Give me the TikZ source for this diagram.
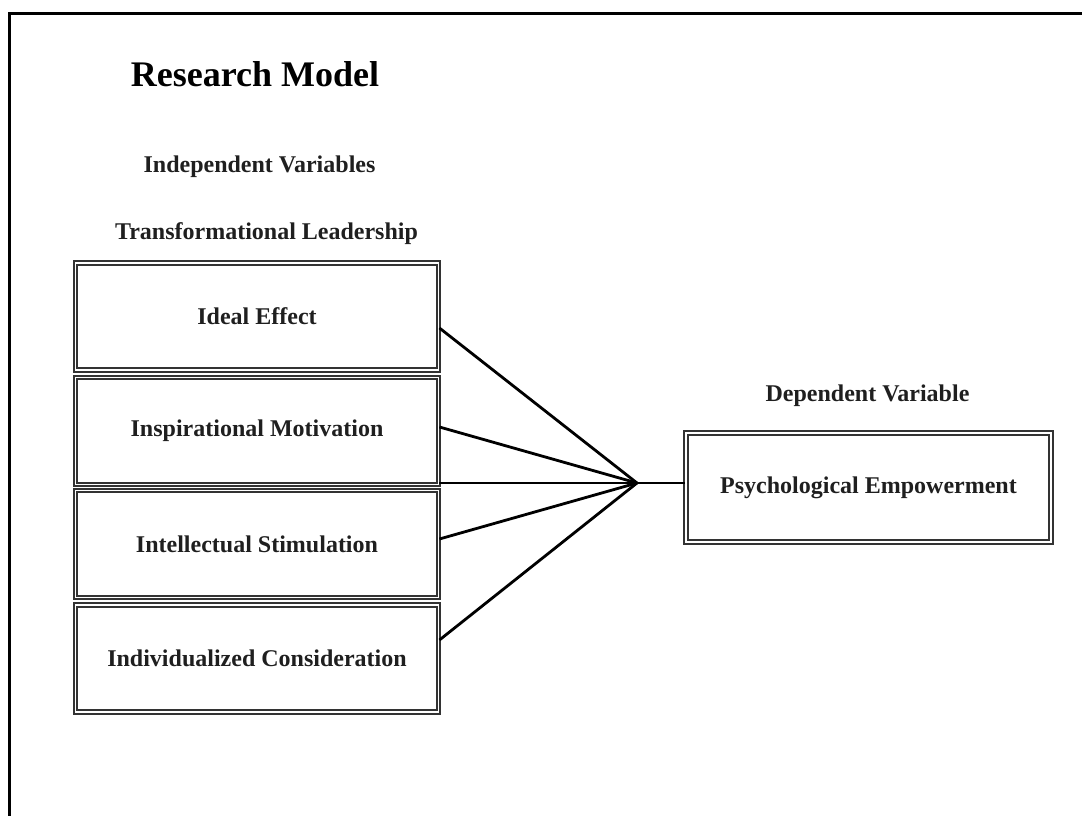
\documentclass[tikz,border=0pt]{standalone}
\usepackage{fontspec}
\setmainfont{Liberation Serif}
\usetikzlibrary{calc}
\begin{document}
\begin{tikzpicture}[x=0.75pt,y=-0.75pt,
  lbl/.style={font=\fontsize{18}{22}\selectfont\bfseries, text=black!88, anchor=base, inner sep=0pt},
  varbox/.style={draw=black!80, line width=1.4pt, double=white, double distance=1.3pt,
    minimum width=363*0.75pt, minimum height=107*0.75pt, inner sep=0pt,
    font=\fontsize{18}{22}\selectfont\bfseries, text=black!88},
  link/.style={line width=2.1pt, black}]
\useasboundingbox (0,0) rectangle (1082,816);
% outer frame
\draw[line width=1.7pt] (9.5,816) -- (9.5,13.5) -- (1082,13.5);
% titles
\node[lbl, font=\fontsize{27}{32}\selectfont\bfseries, text=black] (title) at (255,87) {Research Model};
\node[lbl] (indep) at (259.5,173) {Independent Variables};
\node[lbl] (trans) at (266.5,240) {Transformational Leadership};
\node[lbl] (dep) at (867.5,402) {Dependent Variable};
% boxes
\node[varbox] (b1) at (257,316.5) {Ideal Effect};
\node[varbox] (b2) at (257,431) {Inspirational Motivation};
\node[varbox] (b3) at (257,544) {Intellectual Stimulation};
\node[varbox] (b4) at (257,658.5) {Individualized Consideration};
\node[varbox, minimum width=365*0.75pt, minimum height=109*0.75pt] (pe) at (868.5,487.5) {Psychological Empowerment};
% connectors
\coordinate (hub) at (637,483);
\draw[link] ($(b1.east)+(0,11.5)$) -- (hub);
\draw[link] ($(b2.east)+(0,-4)$) -- (hub);
\draw[link] ($(b3.east)+(0,-5)$) -- (hub);
\draw[link] ($(b4.east)+(0,-18.5)$) -- (hub);
\draw[link] (hub -| b2.east) -- (hub) -- (pe.west |- hub);
\end{tikzpicture}
\end{document}
